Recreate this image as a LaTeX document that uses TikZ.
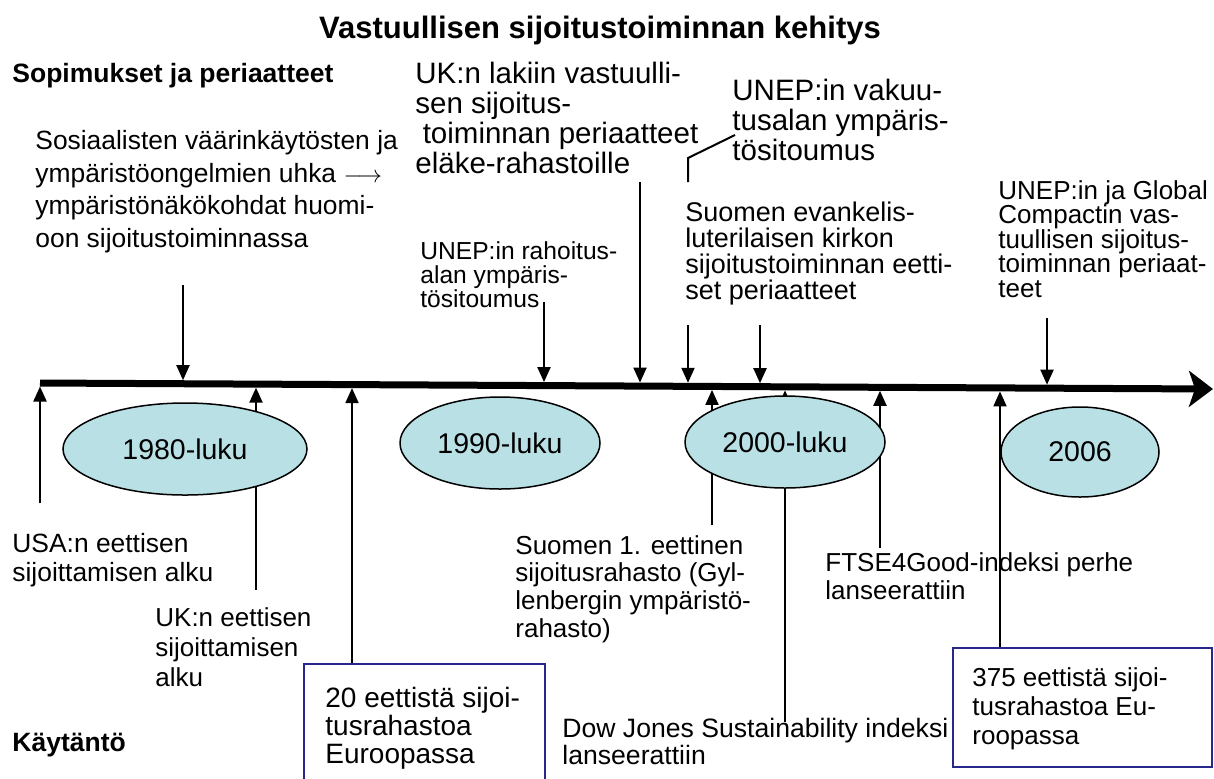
\documentclass[tikz,border=0pt]{standalone}
\usepackage{fontspec}
\setmainfont{Liberation Sans}
\usetikzlibrary{arrows.meta,shapes.geometric,calc}
\definecolor{ellfill}{RGB}{185,224,229}
\definecolor{boxblue}{RGB}{40,40,140}
\begin{document}
\begin{tikzpicture}[x=0.5pt,y=-0.5pt,
  txt/.style={anchor=north west,inner sep=0pt,align=left,font=\fontsize{13}{#1}\selectfont},
  txt/.default=15,
  arr/.style={line width=1pt,-{Triangle[length=7.5pt,width=6.5pt]},shorten >=1.75pt},
  ell/.style={ellipse,draw,fill=ellfill,line width=0.75pt,inner sep=0pt,font=\fontsize{14.25}{16}\selectfont},
  boxframe/.style={draw=boxblue,line width=1pt,anchor=north west,inner sep=0pt}]
\useasboundingbox (0,0) rectangle (1214,778);

% axis
\coordinate (axL) at (40,383);
\coordinate (axR) at (1213,389);
\draw[line width=3.5pt,-{Stealth[length=12pt,width=18pt,inset=3pt]}] (axL) -- (axR);

% points on the axis
\coordinate (x40) at (40,383.0);
\coordinate (x183) at (183,383.7);
\coordinate (x256) at (256,384.1);
\coordinate (x352) at (352,384.6);
\coordinate (x544) at (544,385.6);
\coordinate (x640) at (640,386.1);
\coordinate (x688) at (688,386.3);
\coordinate (x712) at (712,386.4);
\coordinate (x760) at (760,386.7);
\coordinate (x785) at (785,386.8);
\coordinate (x880) at (880,387.3);
\coordinate (x1000) at (1000,387.9);
\coordinate (x1047) at (1047,388.2);

% free ends of the downward arrows
\coordinate (d183) at (183,285);
\coordinate (d544) at (544,302);
\coordinate (d640) at (640,182);
\coordinate (d688) at (688,325);
\coordinate (d760) at (760,325);
\coordinate (d1047) at (1047,318);
% callout of UNEP vakuutus
\coordinate (cv1) at (735,135);
\coordinate (cv2) at (688,158);
\coordinate (cv3) at (688,182);
% free ends of the upward arrows
\coordinate (u40) at (40,503);
\coordinate (u256) at (256,590);
\coordinate (u352) at (352,663);
\coordinate (u712) at (712,525);
\coordinate (u785) at (785,722);
\coordinate (u880) at (880,548);
\coordinate (u1000) at (1000,647);

% arrows
\draw[arr] (d183) -- (x183);
\draw[arr] (d544) -- (x544);
\draw[arr] (d640) -- (x640);
\draw[arr] (d688) -- (x688);
\draw[arr] (d760) -- (x760);
\draw[arr] (d1047) -- (x1047);
\draw[line width=1pt] (cv1) -- (cv2) -- (cv3);
\draw[arr] (u40) -- (x40);
\draw[arr] (u256) -- (x256);
\draw[arr] (u352) -- (x352);
\draw[arr] (u712) -- (x712);
\draw[arr] (u785) -- (x785);
\draw[arr] (u880) -- (x880);
\draw[arr] (u1000) -- (x1000);

% ellipses
\node[ell,minimum width=122pt,minimum height=46pt] (e80) at (185,449) {1980-luku};
\node[ell,minimum width=100pt,minimum height=46pt] (e90) at (500,443) {1990-luku};
\node[ell,minimum width=100pt,minimum height=46pt] (e00) at (785,442) {2000-luku};
\node[ell,minimum width=79pt,minimum height=45pt] (e06) at (1080,452) {2006};

% boxes
\node[boxframe,minimum width=120.5pt,minimum height=63.5pt] (box20) at (303,663) {};
\node[boxframe,minimum width=129.5pt,minimum height=59.5pt] (box375) at (952,647) {};

% texts
\node[font=\bfseries\fontsize{15.5}{18}\selectfont] (title) at (600,30) {Vastuullisen sijoitustoiminnan kehitys};
\node[txt,font=\bfseries\fontsize{13.25}{15}\selectfont] (sop) at (12,63) {Sopimukset ja periaatteet};
\node[txt,font=\bfseries\fontsize{13.25}{15}\selectfont] (kay) at (12,733) {Käytäntö};
\node[txt,font=\fontsize{13.2}{16.25}\selectfont] (sos) at (35,130) {Sosiaalisten väärinkäytösten ja\\ympäristöongelmien uhka $\longrightarrow$\\ympäristönäkökohdat huomi-\\oon sijoitustoiminnassa};
\node[txt,font=\fontsize{14.75}{15}\selectfont] (uklaki) at (415,62) {UK:n lakiin vastuulli-\\sen sijoitus-\\\hspace*{.25em}toiminnan periaatteet\\eläke-rahastoille};
\node[txt,font=\fontsize{12.3}{12}\selectfont] (unepraho) at (420,241) {UNEP:in rahoitus-\\alan ympäris-\\tösitoumus};
\node[txt,font=\fontsize{14.75}{15}\selectfont] (unepvak) at (732,79) {UNEP:in vakuu-\\tusalan ympäris-\\tösitoumus};
\node[txt,font=\fontsize{13.5}{13}\selectfont] (suomenev) at (685,202) {Suomen evankelis-\\luterilaisen kirkon\\sijoitustoiminnan eetti-\\set periaatteet};
\node[txt,font=\fontsize{13}{12.25}\selectfont] (unepglob) at (998,180) {UNEP:in ja Global\\Compactin vas-\\tuullisen sijoitus-\\toiminnan periaat-\\teet};
\node[txt,font=\fontsize{13.2}{14.5}\selectfont] (usa) at (12,533) {USA:n eettisen\\sijoittamisen alku};
\node[txt] (ukeet) at (155,607) {UK:n eettisen\\sijoittamisen\\alku};
\node[txt,font=\fontsize{13}{13.85}\selectfont] (suomen1) at (515,535) {Suomen 1. eettinen\\sijoitusrahasto (Gyl-\\lenbergin ympäristö-\\rahasto)};
\node[txt,font=\fontsize{13}{14}\selectfont] (ftse) at (825,552) {FTSE4Good-indeksi perhe\\lanseerattiin};
\node[txt,font=\fontsize{13.3}{13.5}\selectfont] (dow) at (562,718) {Dow Jones Sustainability indeksi\\lanseerattiin};
\node[txt,font=\fontsize{14}{14}\selectfont] (t20) at (325,687) {20 eettistä sijoi-\\tusrahastoa\\Euroopassa};
\node[txt,font=\fontsize{13}{14.5}\selectfont] (t375) at (972,667) {375 eettistä sijoi-\\tusrahastoa Eu-\\roopassa};
\end{tikzpicture}
\end{document}
